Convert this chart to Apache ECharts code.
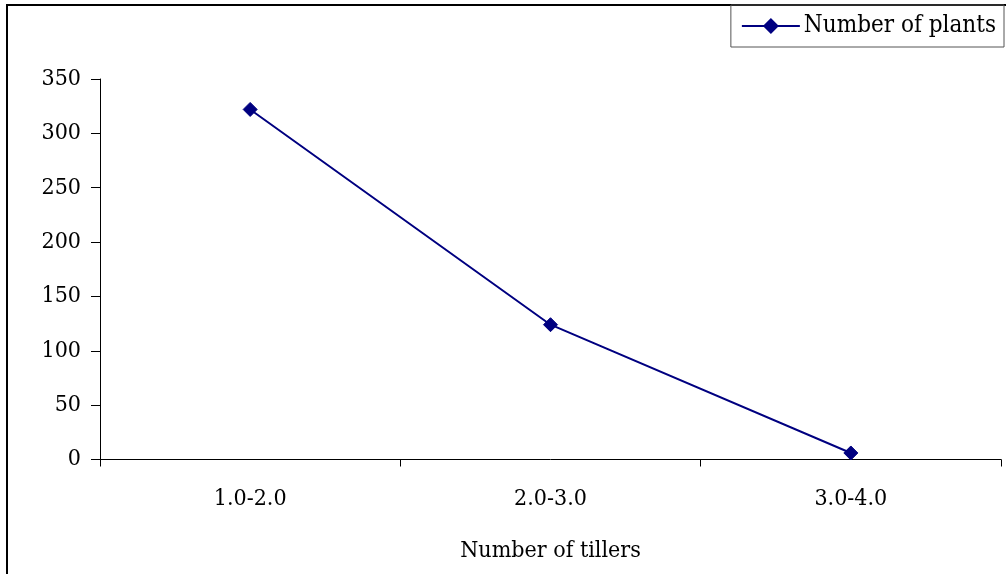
<!DOCTYPE html>
<html>
<head>
<meta charset="utf-8">
<style>
  html, body { margin: 0; padding: 0; background: #fff; }
  #chart { width: 1006px; height: 574px; }
</style>
<script src="https://cdn.jsdelivr.net/npm/echarts@6/dist/echarts.min.js"></script>
</head>
<body>
<div id="chart"></div>
<script>
// Tiller classes and plant counts per class
const tillerClasses = ['1.0-2.0', '2.0-3.0', '3.0-4.0'];
const plantCounts = [322, 124, 6];
const seriesName = 'Number of plants';
const xAxisTitle = 'Number of tillers';

const FONT = '"DejaVu Serif Condensed", "DejaVu Serif", serif';
const FS = 23;
const chart = echarts.init(document.getElementById('chart'), null, { renderer: 'canvas' });

chart.setOption({
  backgroundColor: '#fff',
  animation: false,
  graphic: [{
    type: 'rect',
    shape: { x: 7, y: 5, width: 1100, height: 700 },
    style: { fill: 'none', stroke: '#000', lineWidth: 2 },
    silent: true
  }],
  grid: { left: 100, right: 5, top: 79, bottom: 114.5, containLabel: false },
  legend: {
    right: 2,
    top: 5,
    orient: 'horizontal',
    padding: [9, 8, 9, 10],
    borderColor: '#555',
    borderWidth: 1,
    itemWidth: 58,
    itemHeight: 20,
    itemGap: 6,
    textStyle: { fontFamily: FONT, fontSize: 24, color: '#000', padding: [0, 0, 0, -1] },
    data: [seriesName]
  },
  xAxis: {
    type: 'category',
    data: tillerClasses,
    boundaryGap: true,
    name: xAxisTitle,
    nameLocation: 'middle',
    nameGap: 80,
    nameTextStyle: { fontFamily: FONT, fontSize: FS, color: '#000', verticalAlign: 'top' },
    axisLine: { lineStyle: { color: '#000', width: 1 } },
    axisTick: { show: true, length: 7, inside: false, alignWithLabel: false, lineStyle: { color: '#000' } },
    axisLabel: { margin: 28, fontFamily: FONT, fontSize: FS, color: '#000' },
    splitLine: { show: false }
  },
  yAxis: {
    type: 'value',
    min: 0,
    max: 350,
    interval: 50,
    axisLine: { show: true, lineStyle: { color: '#000', width: 1 } },
    axisTick: { show: true, length: 9, lineStyle: { color: '#000' } },
    axisLabel: { margin: 19, fontFamily: FONT, fontSize: FS, color: '#000' },
    splitLine: { show: false }
  },
  series: [{
    name: seriesName,
    type: 'line',
    data: plantCounts,
    symbol: 'diamond',
    symbolSize: 14,
    showAllSymbol: true,
    lineStyle: { color: '#000080', width: 2 },
    itemStyle: { color: '#000080', borderColor: '#000080' }
  }]
});
</script>
</body>
</html>
